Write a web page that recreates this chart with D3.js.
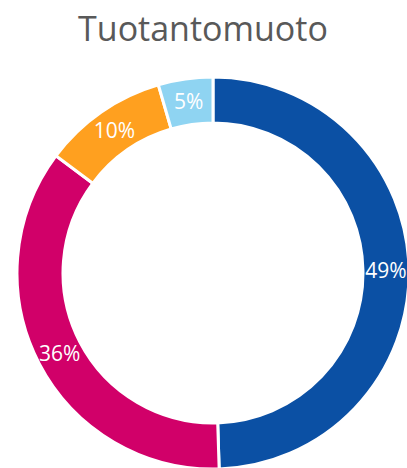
<!DOCTYPE html>
<html><head><meta charset="utf-8">
<script src="https://cdn.jsdelivr.net/npm/d3@7"></script>
<style>html,body{margin:0;padding:0;background:#fff;overflow:hidden}</style>
</head><body>
<svg id="c" width="407" height="468"></svg>
<script>
const title = "Tuotantomuoto";
const categories = ["A", "B", "C", "D"];
const values = [49.5, 35.7, 10.3, 4.5];
const labels = ["49%", "36%", "10%", "5%"];
const colors = ["#0b50a4", "#d10069", "#ffa01f", "#8fd4f2"];

const svg = d3.select("#c");
svg.append("text").attr("x", 203).attr("y", 41).attr("text-anchor", "middle")
  .attr("font-family", "Open Sans, sans-serif").attr("font-size", 34)
  .attr("fill", "#595959").text(title);

const cx = 213, cy = 273, R = 196, r = 150;
const data = categories.map((c, i) => ({c, v: values[i], l: labels[i], col: colors[i]}));
const pie = d3.pie().sort(null).value(d => d.v);
const arc = d3.arc().innerRadius(r).outerRadius(R);
const g = svg.append("g").attr("transform", `translate(${cx},${cy})`);
const arcs = pie(data);
g.selectAll("path").data(arcs).join("path").attr("d", arc)
  .attr("fill", d => d.data.col).attr("stroke", "#fff").attr("stroke-width", 3);
const lab = d3.arc().innerRadius(173).outerRadius(173);
g.selectAll("text").data(arcs).join("text")
  .attr("transform", d => `translate(${lab.centroid(d)})`)
  .attr("text-anchor", "middle").attr("dy", "0.36em")
  .attr("font-family", "Open Sans, sans-serif").attr("font-size", 21)
  .attr("fill", "#fff").text(d => d.data.l);
</script>
</body></html>
